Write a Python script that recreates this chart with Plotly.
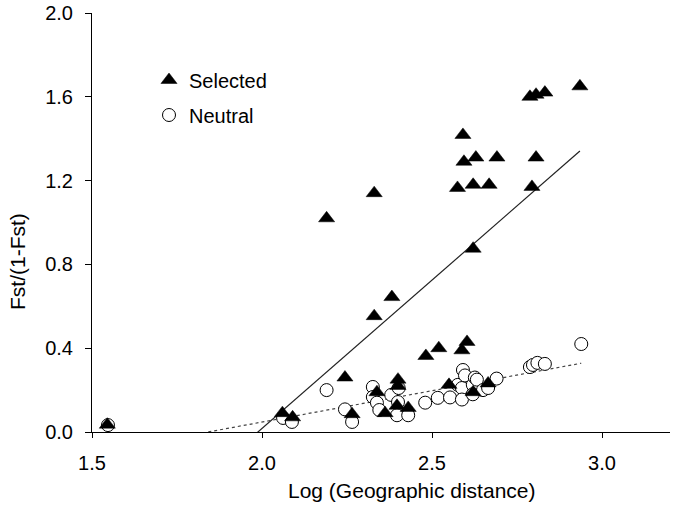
import plotly.graph_objects as go

# ---- data ----
sel_x = [1.545, 2.06, 2.09, 2.19, 2.244, 2.265, 2.33, 2.33, 2.338, 2.362, 2.382,
         2.40, 2.40, 2.397, 2.43, 2.482, 2.52, 2.55, 2.575, 2.588, 2.591, 2.594,
         2.603, 2.621, 2.621, 2.621, 2.629, 2.665, 2.668, 2.691, 2.788, 2.794,
         2.806, 2.806, 2.832, 2.935]
sel_y = [0.035, 0.09, 0.07, 1.02, 0.26, 0.085, 1.14, 0.553, 0.19, 0.09, 0.644,
         0.25, 0.22, 0.125, 0.115, 0.363, 0.40, 0.225, 1.165, 0.39, 1.418, 1.29,
         0.43, 0.875, 0.19, 1.18, 1.31, 0.232, 1.18, 1.31, 1.60, 1.17,
         1.61, 1.31, 1.62, 1.65]

neu_x = [1.547, 2.062, 2.088, 2.19, 2.244, 2.265, 2.326, 2.326, 2.338, 2.345,
         2.38, 2.40, 2.397, 2.43, 2.402, 2.48, 2.517, 2.553, 2.576, 2.588,
         2.588, 2.591, 2.597, 2.62, 2.62, 2.626, 2.632, 2.65, 2.665, 2.69,
         2.788, 2.797, 2.81, 2.832, 2.939]
neu_y = [0.033, 0.067, 0.048, 0.20, 0.108, 0.048, 0.215, 0.167, 0.14, 0.105,
         0.177, 0.143, 0.08, 0.08, 0.21, 0.14, 0.163, 0.165, 0.225, 0.21,
         0.155, 0.296, 0.27, 0.225, 0.18, 0.26, 0.25, 0.2, 0.21, 0.255,
         0.31, 0.32, 0.33, 0.325, 0.42]

# regression lines (slope, intercept)
sel_slope, sel_intercept = 1.416, -2.815
neu_slope, neu_intercept = 0.299, -0.5505

x_ticks = [1.5, 2.0, 2.5, 3.0]
y_ticks = [0.0, 0.4, 0.8, 1.2, 1.6, 2.0]

FONT = "Liberation Sans, Arial, sans-serif"

sel_lx = [min(sel_x), max(sel_x)]
sel_ly = [sel_slope * v + sel_intercept for v in sel_lx]
neu_lx = [min(neu_x), max(neu_x)]
neu_ly = [neu_slope * v + neu_intercept for v in neu_lx]

fig = go.Figure()
fig.add_trace(go.Scatter(x=neu_lx, y=neu_ly, mode="lines", showlegend=False,
                         line=dict(color="#444444", width=1.2, dash="dot"),
                         hoverinfo="skip"))
fig.add_trace(go.Scatter(x=sel_lx, y=sel_ly, mode="lines", showlegend=False,
                         line=dict(color="#222222", width=1.2),
                         hoverinfo="skip"))
fig.add_trace(go.Scatter(x=neu_x, y=neu_y, mode="markers", name="Neutral",
                         legend="legend2",
                         marker=dict(symbol="circle", size=13, color="white",
                                     line=dict(color="black", width=1))))
fig.add_trace(go.Scatter(x=sel_x, y=sel_y, mode="markers", name="Selected",
                         legend="legend",
                         marker=dict(symbol="triangle-up", size=14, color="black",
                                     line=dict(color="black", width=0.5))))

# figure fills the window exactly (page body margin removed below)
W, H = 675, 506
# plot area in window pixels: left 92, right 670, top 13, bottom 432
L, T = 92, 13
R = W - 670
B = H - 432
pw, ph = W - L - R, H - T - B

def px(xw):
    return (xw - L) / pw

def py(yw):
    return (H - B - yw) / ph

fig.update_layout(
    width=W, height=H,
    margin=dict(l=L, r=R, t=T, b=B, pad=0, autoexpand=False),
    paper_bgcolor="white", plot_bgcolor="white",
    font=dict(family=FONT, size=20, color="black"),
    xaxis=dict(range=[1.5, 3.2], tickvals=x_ticks, ticktext=[f"{v:.1f}" for v in x_ticks],
               showline=True, linecolor="black", linewidth=1, mirror=False,
               ticks="outside", ticklen=5, tickcolor="black", tickwidth=1,
               showgrid=False, zeroline=False, ticklabelstandoff=8,
               ticklabeloverflow="allow", automargin=False,
               tickfont=dict(size=20, family=FONT)),
    yaxis=dict(range=[0, 2.0], tickvals=y_ticks, ticktext=[f"{v:.1f}" for v in y_ticks],
               showline=True, linecolor="black", linewidth=1, mirror=False,
               ticks="outside", ticklen=6, tickcolor="black", tickwidth=1,
               showgrid=False, zeroline=False, ticklabelstandoff=8,
               ticklabeloverflow="allow", automargin=False,
               tickfont=dict(size=20, family=FONT)),
    legend=dict(x=px(149), y=py(80), xanchor="left", yanchor="middle",
                bgcolor="rgba(0,0,0,0)", font=dict(size=20, family=FONT),
                itemwidth=30),
    legend2=dict(x=px(149), y=py(115), xanchor="left", yanchor="middle",
                 bgcolor="rgba(0,0,0,0)", font=dict(size=20, family=FONT),
                 itemwidth=30),
    annotations=[
        dict(text="Log (Geographic distance)", xref="paper", yref="paper",
             x=px(411), y=py(490), xanchor="center", yanchor="middle",
             showarrow=False, font=dict(size=21, family=FONT)),
        dict(text="Fst/(1-Fst)", xref="paper", yref="paper",
             x=px(17), y=py(262), xanchor="center", yanchor="middle",
             textangle=-90, showarrow=False, font=dict(size=21, family=FONT)),
    ],
)

fig.write_html("out.html",
               config={"displayModeBar": False},
               post_script="document.body.style.margin='0px';document.body.style.overflow='hidden';")
